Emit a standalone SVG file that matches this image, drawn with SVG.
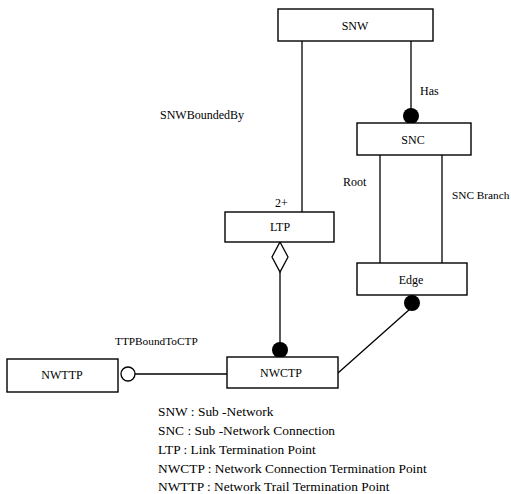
<svg xmlns="http://www.w3.org/2000/svg" width="511" height="494" viewBox="0 0 511 494">
  <style>
    .box { fill: #fff; stroke: #000; stroke-width: 1.4; }
    .ln { fill: none; stroke: #000; stroke-width: 1.3; }
    .dot { fill: #000; }
    .hollow { fill: #fff; stroke: #000; stroke-width: 1.3; }
    text { font-family: "Liberation Serif", "Times New Roman", serif; font-size: 12px; fill: #000; }
    .c { text-anchor: middle; }
    .small { font-size: 11.3px; }
    .key { font-size: 13.4px; }
  </style>
  <rect width="511" height="494" fill="#fff"/>

  <!-- connectors -->
  <g id="connectors">
    <!-- SNW to LTP -->
    <line class="ln" x1="302" y1="41" x2="302" y2="212"/>
    <text x="160" y="119">SNWBoundedBy</text>
    <text x="275" y="207">2+</text>
    <!-- SNW has SNC -->
    <line class="ln" x1="411" y1="41" x2="411" y2="110"/>
    <circle class="dot" cx="411" cy="116" r="8"/>
    <text x="420" y="95">Has</text>
    <!-- SNC to Edge -->
    <line class="ln" x1="380" y1="155" x2="380" y2="263"/>
    <line class="ln" x1="442" y1="155" x2="442" y2="263"/>
    <text x="343" y="186">Root</text>
    <text class="small" x="452" y="199">SNC Branch</text>
    <text x="455" y="278">1+</text>
    <!-- LTP aggregates NWCTP -->
    <polygon class="hollow" points="280,242 288,257 280,272 272,257"/>
    <line class="ln" x1="280" y1="272" x2="280" y2="344"/>
    <circle class="dot" cx="280" cy="350" r="8"/>
    <!-- Edge to NWCTP -->
    <circle class="dot" cx="412" cy="303" r="8"/>
    <line class="ln" x1="410" y1="309" x2="338" y2="373"/>
    <!-- NWTTP to NWCTP -->
    <line class="ln" x1="135" y1="374" x2="227" y2="374"/>
    <circle class="hollow" cx="128" cy="374" r="7"/>
    <text class="small" x="115" y="345">TTPBoundToCTP</text>
  </g>

  <g id="SNW">
    <rect class="box" x="278" y="9" width="155" height="32"/>
    <text class="c" x="355" y="30">SNW</text>
  </g>
  <g id="SNC">
    <rect class="box" x="357" y="123" width="114" height="32"/>
    <text class="c" x="413" y="144">SNC</text>
  </g>
  <g id="LTP">
    <rect class="box" x="225" y="212" width="109" height="30"/>
    <text class="c" x="280" y="231">LTP</text>
  </g>
  <g id="Edge">
    <rect class="box" x="357" y="263" width="110" height="32"/>
    <text class="c" x="411" y="284">Edge</text>
  </g>
  <g id="NWCTP">
    <rect class="box" x="227" y="357" width="111" height="31"/>
    <text class="c" x="281" y="377">NWCTP</text>
  </g>
  <g id="NWTTP">
    <rect class="box" x="7" y="359" width="111" height="33"/>
    <text class="c" x="62" y="379">NWTTP</text>
  </g>

  <!-- legend -->
  <g id="legend">
    <text class="key" x="158" y="416">SNW : Sub -Network</text>
    <text class="key" x="158" y="435">SNC : Sub -Network Connection</text>
    <text class="key" x="158" y="454">LTP : Link Termination Point</text>
    <text class="key" x="158" y="473">NWCTP : Network Connection Termination Point</text>
    <text class="key" x="158" y="491">NWTTP : Network Trail Termination Point</text>
  </g>
</svg>
